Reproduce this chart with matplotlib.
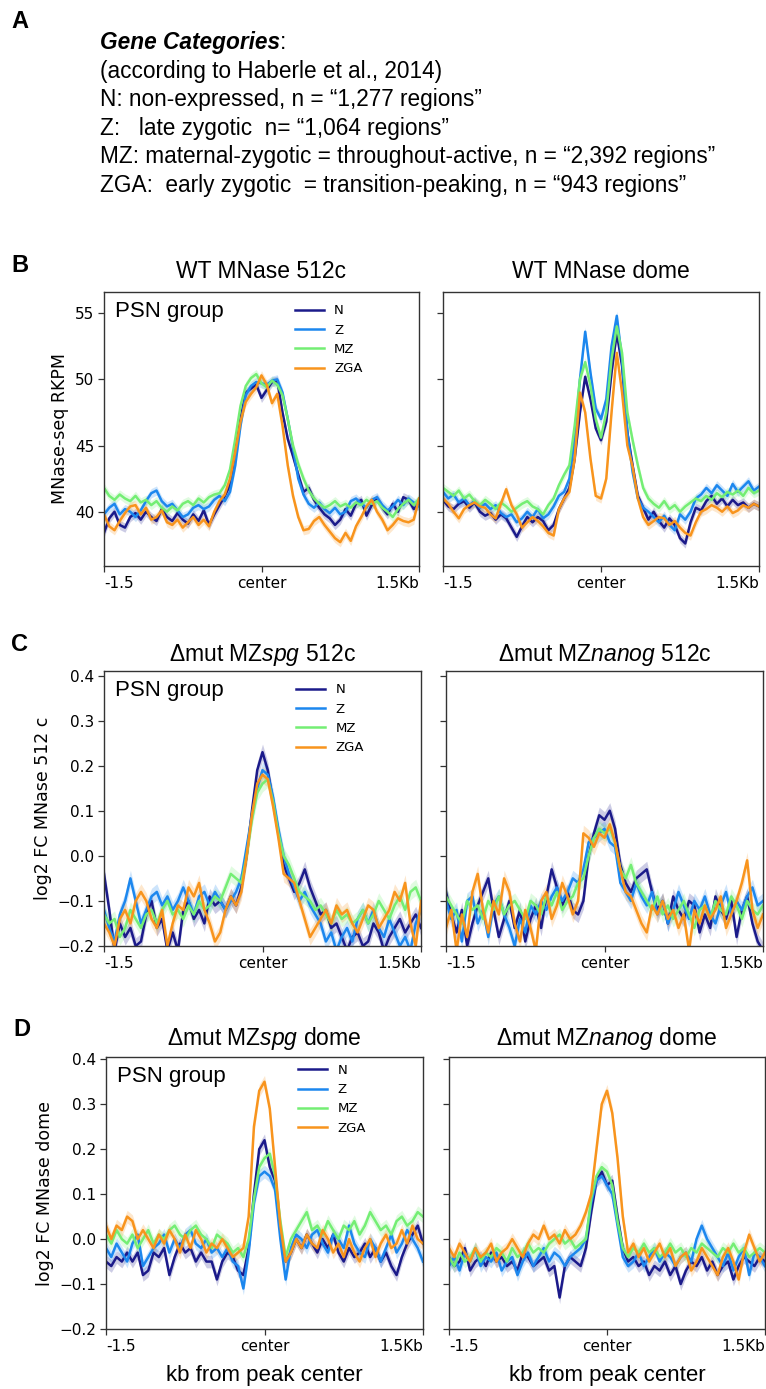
import numpy as np
import matplotlib
matplotlib.use("Agg")
import matplotlib.pyplot as plt
from matplotlib.lines import Line2D

plt.rcParams['mathtext.fontset'] = 'custom'
plt.rcParams['mathtext.rm'] = 'Liberation Sans'
plt.rcParams['mathtext.it'] = 'Liberation Sans:italic'

# ---------------- data ----------------
groups = ["N", "Z", "MZ", "ZGA"]
colors = ["#1b1a8a", "#1c87ee", "#74ee74", "#f8941d"]
positions_kb = np.linspace(-1.5, 1.5, 61)
xtick_pos = [-1.5, 0.0, 1.5]
xtick_labels = ["-1.5", "center", "1.5Kb"]

titles = ["WT MNase 512c", "WT MNase dome",
          "\u0394mut MZ$\\mathit{spg}$ 512c", "\u0394mut MZ$\\mathit{nanog}$ 512c",
          "\u0394mut MZ$\\mathit{spg}$ dome", "\u0394mut MZ$\\mathit{nanog}$ dome"]
ylabels = ["MNase-seq RKPM", "log2 FC MNase 512 c", "log2 FC MNase dome"]
yticks_B = [40, 45, 50, 55]
yticks_CD = [-0.2, -0.1, 0.0, 0.1, 0.2, 0.3, 0.4]

# Panel B left: WT MNase 512c
wt512_N = [38.4, 39.5, 40.0, 39.0, 38.8, 39.6, 39.9, 39.4, 40.0, 39.6, 39.3, 40.2, 39.6, 39.3, 39.9, 39.4,
           39.1, 39.8, 39.3, 40.1, 39.0, 39.8, 40.5, 41.2, 42.0, 44.5, 47.0, 49.0, 49.3, 49.6, 48.6, 49.2,
           49.8, 49.9, 47.5, 45.5, 44.2, 42.8, 41.5, 41.8, 40.9, 40.3, 39.8, 39.5, 39.0, 39.4, 40.2, 39.7,
           40.6, 40.9, 39.7, 40.5, 41.0, 40.3, 39.8, 40.6, 40.0, 41.1, 40.9, 40.2, 40.6]
wt512_Z = [39.8, 40.3, 40.6, 39.8, 40.2, 40.0, 39.6, 40.1, 40.8, 41.4, 41.6, 40.8, 40.4, 40.6, 40.1, 39.6,
           39.8, 40.3, 40.5, 40.2, 40.4, 40.9, 41.2, 40.8, 41.5, 43.5, 46.5, 48.8, 49.5, 49.8, 49.7, 49.6,
           49.9, 50.0, 49.0, 47.0, 44.8, 42.5, 41.3, 40.6, 40.3, 40.7, 40.2, 39.9, 40.3, 39.8, 40.0, 40.8,
           41.0, 40.6, 40.3, 40.9, 41.1, 40.5, 40.1, 40.4, 40.9, 40.5, 41.0, 40.7, 40.4]
wt512_MZ = [41.8, 41.2, 40.9, 41.3, 41.0, 40.8, 41.2, 40.7, 40.9, 40.5, 40.8, 40.3, 40.0, 40.4, 40.1, 40.6,
            40.8, 40.5, 41.0, 40.7, 41.1, 41.3, 41.4, 42.0, 43.2, 45.5, 48.0, 49.5, 50.1, 50.4, 49.7, 49.4,
            49.9, 49.6, 48.8, 47.0, 45.0, 43.6, 42.5, 41.6, 41.0, 40.6, 40.3, 40.5, 40.8, 40.4, 40.6, 40.3,
            40.7, 40.5, 40.9, 40.6, 40.8, 40.3, 40.0, 39.6, 40.2, 40.6, 40.9, 40.5, 41.0]
wt512_ZGA = [39.8, 38.9, 38.6, 39.3, 39.9, 40.4, 40.5, 39.8, 40.3, 39.4, 39.6, 40.1, 39.2, 39.0, 39.4, 38.8,
             39.2, 39.6, 39.0, 39.4, 38.9, 40.0, 40.8, 41.3, 42.5, 44.5, 46.8, 48.3, 48.9, 49.4, 50.3, 49.6,
             48.2, 48.9, 46.5, 43.5, 41.2, 39.6, 38.6, 38.7, 39.3, 39.6, 39.0, 38.5, 38.0, 37.7, 38.4, 37.8,
             38.9, 39.6, 40.4, 40.9, 40.0, 39.4, 38.6, 39.0, 39.5, 39.3, 39.2, 39.4, 41.0]

# Panel B right: WT MNase dome
wtdome_N = [40.9, 40.4, 40.2, 40.6, 40.8, 40.3, 40.7, 40.0, 39.7, 39.9, 39.4, 39.8, 39.5, 38.8, 38.1, 38.9,
            39.6, 39.2, 39.6, 39.3, 38.6, 39.0, 40.2, 41.0, 41.8, 44.0, 47.5, 50.2, 48.5, 46.3, 45.4, 46.8,
            50.5, 53.5, 51.0, 46.0, 43.5, 41.2, 40.3, 39.4, 40.0, 39.3, 38.8, 39.5, 39.0, 38.0, 37.6, 39.2,
            40.3, 40.1, 40.8, 41.2, 40.6, 41.0, 40.4, 40.9, 40.5, 40.7, 40.3, 40.6, 40.4]
wtdome_Z = [41.5, 41.0, 41.3, 40.7, 41.0, 40.5, 40.8, 40.3, 40.6, 40.2, 40.5, 39.9, 39.6, 39.8, 39.2, 39.5,
            40.0, 39.6, 40.2, 39.5, 39.8, 40.4, 41.2, 41.5, 42.5, 45.5, 50.0, 53.6, 50.5, 47.8, 47.0, 48.5,
            52.5, 54.8, 51.5, 46.0, 43.0, 41.0, 40.3, 40.0, 39.6, 39.2, 39.7, 39.0, 38.6, 39.8, 39.4, 40.0,
            41.0, 41.3, 41.8, 41.4, 42.0, 41.6, 41.2, 42.1, 41.5, 41.9, 42.3, 41.6, 41.9]
wtdome_MZ = [41.8, 41.5, 41.2, 41.6, 41.0, 41.3, 40.8, 40.5, 40.9, 40.6, 40.2, 40.7, 40.4, 40.0, 40.3, 40.6,
             40.8, 40.4, 40.2, 39.8, 40.5, 41.0, 42.0, 42.8, 43.5, 46.5, 50.0, 51.3, 49.5, 47.0, 45.6, 47.5,
             51.5, 54.0, 52.0, 47.5, 45.4, 43.5, 41.8, 41.0, 40.6, 40.3, 40.8, 40.2, 40.5, 40.0, 40.4, 40.7,
             41.0, 40.8, 41.2, 40.9, 41.4, 41.1, 41.5, 41.3, 41.6, 41.2, 41.8, 41.4, 41.6]
wtdome_ZGA = [41.0, 40.6, 40.0, 39.5, 40.2, 40.5, 40.7, 40.4, 40.3, 39.8, 39.5, 40.6, 41.7, 40.5, 39.8, 38.8,
              39.2, 39.6, 39.3, 38.9, 38.4, 38.2, 40.2, 41.0, 41.5, 44.0, 49.0, 47.5, 44.0, 41.2, 41.0, 42.5,
              47.5, 52.0, 49.0, 45.0, 43.4, 41.0, 39.6, 39.0, 39.3, 39.6, 39.5, 39.0, 39.3, 38.8, 38.4, 38.2,
              39.2, 40.0, 40.2, 40.5, 40.3, 40.0, 40.4, 39.9, 40.1, 40.5, 40.3, 40.6, 40.4]

# Panel C left: dmut MZspg 512c
spg512_N = [-0.04, -0.12, -0.21, -0.15, -0.18, -0.16, -0.20, -0.19, -0.13, -0.10, -0.16, -0.14, -0.21, -0.17,
            -0.21, -0.12, -0.10, -0.14, -0.12, -0.15, -0.09, -0.11, -0.10, -0.12, -0.09, -0.11, -0.07, 0.00,
            0.10, 0.19, 0.23, 0.19, 0.12, 0.05, -0.02, -0.05, -0.08, -0.06, -0.03, -0.07, -0.10, -0.13, -0.12,
            -0.16, -0.15, -0.18, -0.21, -0.18, -0.17, -0.20, -0.19, -0.15, -0.17, -0.21, -0.18, -0.16, -0.14,
            -0.17, -0.15, -0.13, -0.16]
spg512_Z = [-0.12, -0.16, -0.19, -0.13, -0.10, -0.05, -0.10, -0.15, -0.12, -0.09, -0.08, -0.11, -0.09, -0.12,
            -0.10, -0.07, -0.10, -0.13, -0.09, -0.08, -0.11, -0.08, -0.10, -0.12, -0.10, -0.08, -0.05, 0.02,
            0.09, 0.15, 0.19, 0.18, 0.13, 0.06, 0.00, -0.04, -0.07, -0.10, -0.08, -0.11, -0.13, -0.15, -0.19,
            -0.17, -0.21, -0.18, -0.16, -0.19, -0.14, -0.12, -0.15, -0.12, -0.16, -0.18, -0.14, -0.17, -0.20,
            -0.18, -0.21, -0.15, -0.12]
spg512_MZ = [-0.13, -0.15, -0.14, -0.18, -0.16, -0.12, -0.14, -0.16, -0.13, -0.12, -0.15, -0.12, -0.10, -0.13,
             -0.12, -0.14, -0.11, -0.13, -0.10, -0.12, -0.11, -0.09, -0.10, -0.07, -0.04, -0.05, -0.06, 0.00,
             0.08, 0.14, 0.16, 0.17, 0.12, 0.05, 0.00, -0.02, -0.05, -0.08, -0.09, -0.10, -0.12, -0.11, -0.13,
             -0.15, -0.12, -0.14, -0.13, -0.15, -0.14, -0.12, -0.15, -0.13, -0.10, -0.12, -0.14, -0.11, -0.09,
             -0.12, -0.08, -0.07, -0.10]
spg512_ZGA = [-0.15, -0.17, -0.20, -0.14, -0.12, -0.15, -0.10, -0.08, -0.10, -0.14, -0.16, -0.12, -0.20, -0.15,
              -0.11, -0.12, -0.07, -0.09, -0.06, -0.12, -0.15, -0.19, -0.17, -0.12, -0.09, -0.11, -0.08, 0.00,
              0.09, 0.16, 0.18, 0.17, 0.11, 0.04, -0.04, -0.05, -0.06, -0.10, -0.14, -0.18, -0.16, -0.14, -0.12,
              -0.15, -0.11, -0.13, -0.12, -0.15, -0.17, -0.14, -0.11, -0.12, -0.16, -0.14, -0.12, -0.08, -0.10,
              -0.06, -0.15, -0.20, -0.10]

# Panel C right: dmut MZnanog 512c
nan512_N = [-0.08, -0.13, -0.17, -0.12, -0.20, -0.15, -0.11, -0.08, -0.05, -0.12, -0.18, -0.14, -0.10, -0.16,
            -0.12, -0.19, -0.14, -0.11, -0.16, -0.09, -0.03, -0.07, -0.11, -0.08, -0.12, -0.13, -0.10, 0.00,
            0.05, 0.09, 0.08, 0.10, 0.06, -0.02, -0.06, -0.08, -0.05, -0.04, -0.03, -0.08, -0.12, -0.10, -0.15,
            -0.09, -0.12, -0.14, -0.10, -0.11, -0.17, -0.13, -0.16, -0.09, -0.12, -0.14, -0.10, -0.18, -0.12,
            -0.09, -0.15, -0.19, -0.21]
nan512_Z = [-0.10, -0.14, -0.12, -0.19, -0.10, -0.09, -0.15, -0.12, -0.18, -0.11, -0.09, -0.13, -0.16, -0.20,
            -0.14, -0.17, -0.11, -0.13, -0.10, -0.12, -0.09, -0.07, -0.10, -0.08, -0.05, -0.06, -0.03, 0.03,
            0.04, 0.05, 0.06, 0.03, 0.02, -0.06, -0.08, -0.10, -0.06, -0.09, -0.11, -0.08, -0.13, -0.10, -0.15,
            -0.12, -0.08, -0.11, -0.14, -0.10, -0.12, -0.09, -0.13, -0.15, -0.11, -0.08, -0.13, -0.10, -0.12,
            -0.09, -0.07, -0.11, -0.10]
nan512_MZ = [-0.09, -0.11, -0.13, -0.15, -0.10, -0.12, -0.11, -0.14, -0.10, -0.12, -0.09, -0.13, -0.11, -0.10,
             -0.12, -0.14, -0.10, -0.11, -0.13, -0.09, -0.11, -0.08, -0.12, -0.10, -0.09, -0.06, -0.05, 0.00,
             0.04, 0.06, 0.05, 0.06, 0.03, -0.03, -0.05, -0.02, -0.06, -0.08, -0.10, -0.12, -0.09, -0.13, -0.11,
             -0.14, -0.12, -0.10, -0.13, -0.16, -0.12, -0.11, -0.14, -0.10, -0.12, -0.13, -0.09, -0.11, -0.14,
             -0.10, -0.12, -0.13, -0.11]
nan512_ZGA = [-0.16, -0.12, -0.21, -0.13, -0.18, -0.08, -0.04, -0.12, -0.17, -0.10, -0.13, -0.05, -0.08, -0.15,
              -0.19, -0.12, -0.16, -0.21, -0.10, -0.08, -0.14, -0.11, -0.06, -0.09, -0.13, -0.10, 0.05, 0.04,
              0.02, 0.05, 0.04, 0.07, 0.03, -0.03, -0.08, -0.09, -0.12, -0.15, -0.17, -0.11, -0.13, -0.10, -0.14,
              -0.12, -0.16, -0.13, -0.21, -0.12, -0.15, -0.11, -0.14, -0.12, -0.09, -0.16, -0.13, -0.10, -0.06,
              -0.01, -0.12, -0.16, -0.13]

# Panel D left: dmut MZspg dome
spgdome_N = [-0.05, -0.06, -0.04, -0.05, -0.03, -0.05, -0.03, -0.08, -0.07, -0.03, -0.04, -0.02, -0.08, -0.04,
             -0.01, -0.03, -0.02, -0.05, -0.03, -0.05, -0.05, -0.09, -0.05, -0.03, -0.04, -0.07, -0.08, -0.02,
             0.10, 0.20, 0.22, 0.16, 0.13, 0.02, -0.05, -0.03, 0.00, -0.02, 0.01, -0.01, -0.03, 0.00, -0.02,
             0.01, -0.03, -0.05, -0.02, -0.04, -0.03, -0.01, -0.04, -0.02, -0.05, -0.03, -0.06, -0.08, -0.04,
             -0.01, 0.01, 0.03, -0.01]
spgdome_Z = [-0.02, -0.04, -0.01, -0.03, -0.05, -0.01, 0.01, -0.06, -0.04, -0.02, -0.01, 0.01, -0.03, 0.00,
             -0.02, 0.01, 0.02, -0.01, -0.02, 0.00, -0.03, -0.02, -0.04, -0.02, -0.05, -0.06, -0.11, -0.03,
             0.08, 0.14, 0.15, 0.14, 0.11, 0.00, -0.09, -0.02, 0.01, 0.00, -0.02, 0.01, 0.02, -0.01, -0.03,
             0.01, 0.00, -0.02, 0.03, -0.01, -0.03, -0.04, 0.00, -0.02, -0.05, -0.02, 0.01, -0.03, -0.01,
             0.02, 0.00, -0.02, -0.05]
spgdome_MZ = [0.01, -0.01, 0.02, 0.00, -0.01, 0.01, -0.02, 0.00, 0.02, -0.01, 0.01, 0.00, 0.02, 0.03,
              0.01, 0.00, 0.02, 0.03, 0.01, 0.00, -0.02, 0.01, 0.00, -0.01, -0.03, -0.02, -0.04, 0.00,
              0.09, 0.16, 0.18, 0.19, 0.14, 0.04, -0.04, 0.00, 0.02, 0.04, 0.06, 0.02, 0.03, 0.01, 0.04,
              0.02, 0.00, 0.03, 0.02, 0.04, 0.01, 0.03, 0.06, 0.04, 0.02, 0.03, 0.01, 0.04, 0.05, 0.03,
              0.04, 0.06, 0.05]
spgdome_ZGA = [0.03, 0.00, 0.03, 0.02, 0.05, 0.04, 0.00, 0.02, 0.00, -0.02, 0.01, -0.01, 0.02, 0.00,
               -0.03, 0.01, -0.02, 0.02, 0.00, -0.03, -0.01, -0.02, 0.00, -0.02, -0.04, -0.03, -0.02, 0.05,
               0.25, 0.33, 0.35, 0.29, 0.16, 0.03, -0.05, -0.03, 0.00, -0.02, 0.01, -0.01, -0.02, 0.02, 0.00,
               -0.03, -0.01, -0.04, 0.00, -0.03, -0.05, -0.02, 0.00, -0.04, -0.01, 0.01, -0.02, -0.01, 0.02,
               -0.01, 0.03, 0.00, -0.01]

# Panel D right: dmut MZnanog dome
nandome_N = [-0.04, -0.06, -0.05, -0.02, -0.07, -0.05, -0.04, -0.06, -0.03, -0.05, -0.04, -0.06, -0.05, -0.07,
             -0.03, -0.04, -0.06, -0.05, -0.04, -0.07, -0.06, -0.13, -0.06, -0.04, -0.05, -0.06, -0.02, 0.06,
             0.13, 0.15, 0.12, 0.13, 0.05, -0.02, -0.05, -0.04, -0.06, -0.05, -0.08, -0.06, -0.07, -0.05, -0.08,
             -0.06, -0.10, -0.07, -0.05, -0.06, -0.04, -0.07, -0.05, -0.08, -0.06, -0.05, -0.09, -0.06, -0.04,
             -0.05, -0.06, -0.04, -0.05]
nandome_Z = [-0.06, -0.04, -0.07, -0.03, -0.05, -0.02, -0.06, -0.04, -0.05, -0.03, -0.07, -0.05, -0.04, -0.08,
             -0.05, -0.03, -0.06, -0.04, -0.02, -0.05, -0.03, -0.04, -0.06, -0.04, -0.03, -0.02, 0.00, 0.08,
             0.13, 0.14, 0.12, 0.10, 0.03, -0.04, -0.06, -0.05, -0.03, -0.06, -0.04, -0.02, -0.05, -0.03, -0.04,
             -0.06, -0.04, -0.03, -0.05, 0.00, 0.03, 0.00, -0.02, -0.04, -0.06, -0.03, -0.07, -0.04, -0.02,
             -0.08, -0.03, -0.04, -0.06]
nandome_MZ = [-0.04, -0.06, -0.03, -0.05, -0.04, -0.02, -0.05, -0.03, -0.04, -0.02, -0.03, -0.05, -0.02, -0.04,
              -0.03, -0.01, -0.03, -0.02, -0.03, -0.01, 0.00, 0.01, -0.01, 0.00, -0.02, -0.01, 0.00, 0.09,
              0.14, 0.16, 0.15, 0.12, 0.04, -0.02, -0.04, -0.02, -0.03, -0.01, -0.03, -0.02, -0.04, -0.03, -0.01,
              -0.03, -0.02, -0.04, -0.02, -0.03, -0.01, -0.02, -0.03, -0.04, -0.02, -0.03, -0.01, -0.03, -0.02,
              -0.04, -0.03, -0.02, -0.03]
nandome_ZGA = [-0.02, -0.04, -0.01, -0.03, -0.05, -0.02, -0.04, -0.03, -0.01, -0.05, -0.03, -0.02, 0.00, -0.02,
               -0.04, -0.01, 0.01, 0.00, 0.03, 0.00, 0.01, -0.01, 0.02, 0.00, 0.01, 0.03, 0.06, 0.10,
               0.20, 0.30, 0.33, 0.28, 0.18, 0.05, -0.03, -0.01, -0.04, -0.02, -0.05, -0.03, -0.01, -0.04, -0.02,
               -0.06, -0.04, -0.03, -0.07, -0.05, -0.02, -0.04, -0.06, -0.08, -0.04, -0.02, -0.05, -0.09, -0.03,
               0.01, -0.02, -0.05, -0.03]

panels = [
    [wt512_N, wt512_Z, wt512_MZ, wt512_ZGA],
    [wtdome_N, wtdome_Z, wtdome_MZ, wtdome_ZGA],
    [spg512_N, spg512_Z, spg512_MZ, spg512_ZGA],
    [nan512_N, nan512_Z, nan512_MZ, nan512_ZGA],
    [spgdome_N, spgdome_Z, spgdome_MZ, spgdome_ZGA],
    [nandome_N, nandome_Z, nandome_MZ, nandome_ZGA],
]

# ---------------- layout ----------------
W, H = 766, 1389
fig = plt.figure(figsize=(W / 100, H / 100), dpi=100)

def fx(px):
    return px / W

def fy(py):
    return 1 - py / H

boxes = [  # x0, x1, ytop, ybottom in pixels
    (104, 419, 292, 566), (443, 759, 292, 566),
    (104, 421, 671, 946), (446, 763, 671, 946),
    (106, 423, 1057, 1329), (449, 765, 1057, 1329),
]
title_y = [272, 272, 655, 655, 1039, 1039]
legend_y = [0.955, 0.955, 0.955, 0.955, 0.975, 0.975]
ylims = [(35.9, 56.6), (35.9, 56.6), (-0.2, 0.41), (-0.2, 0.41), (-0.2, 0.405), (-0.2, 0.405)]
bands = [0.35, 0.35, 0.018, 0.018, 0.014, 0.014]

SANS = "Liberation Sans"
DV = "DejaVu Sans"
spine_col = "#333333"

for k, (x0, x1, yt, yb) in enumerate(boxes):
    ax = fig.add_axes([fx(x0), fy(yb), fx(x1 - x0), (yb - yt) / H])
    for series, col in zip(panels[k], colors):
        v = np.array(series)
        ax.fill_between(positions_kb, v - bands[k], v + bands[k], color=col, alpha=0.22, lw=0)
        ax.plot(positions_kb, v, color=col, lw=1.8)
    ax.set_xlim(-1.5, 1.5)
    ax.set_ylim(*ylims[k])
    ax.set_xticks(xtick_pos)
    ax.set_xticklabels(xtick_labels, fontfamily=DV, fontsize=11)
    for lbl, ha in zip(ax.get_xticklabels(), ["left", "center", "right"]):
        lbl.set_horizontalalignment(ha)
    ax.set_yticks(yticks_B if k < 2 else yticks_CD)
    ax.tick_params(direction="out", length=4, width=0.9, color=spine_col,
                   labelsize=11, pad=3)
    for lbl in ax.get_yticklabels():
        lbl.set_fontfamily(DV)
    for sp in ax.spines.values():
        sp.set_color(spine_col)
        sp.set_linewidth(1.0)
    if k % 2 == 1:
        ax.tick_params(labelleft=False)
    else:
        ax.set_ylabel(ylabels[k // 2], fontfamily=DV, fontsize=12.5, labelpad=4)
        ax.text(0.035, 0.93, "PSN group", transform=ax.transAxes, fontfamily=SANS,
                fontsize=16, va="center", ha="left")
        handles = [Line2D([], [], color=c, lw=1.8) for c in colors]
        ax.legend(handles, groups, loc="upper left", bbox_to_anchor=(0.605, legend_y[k]),
                  frameon=False, prop={"family": DV, "size": 9.5}, handlelength=2.2,
                  handletextpad=0.8, labelspacing=0.48, borderaxespad=0, borderpad=0)
    fig.text(fx((x0 + x1) / 2), fy(title_y[k]), titles[k], fontfamily=SANS,
             fontsize=16.5, ha="center", va="center")
    if k >= 4:
        fig.text(fx((x0 + x1) / 2), fy(1375), "kb from peak center", fontfamily=SANS,
                 fontsize=16, ha="center", va="center")

# panel letters
for letter, (px, py) in zip("ABCD", [(20, 22), (20, 265), (20, 645), (22, 1030)]):
    fig.text(fx(px), fy(py), letter, fontfamily=SANS, fontweight="bold", fontsize=17,
             ha="center", va="center")

# Gene category text block
lines = [
    "(according to Haberle et al., 2014)",
    "N: non-expressed, n = \u201c1,277 regions\u201d",
    "Z:   late zygotic  n= \u201c1,064 regions\u201d",
    "MZ: maternal-zygotic = throughout-active, n = \u201c2,392 regions\u201d",
    "ZGA:  early zygotic  = transition-peaking, n = \u201c943 regions\u201d",
]
line_y = [71, 99, 128, 156, 185]
t0 = fig.text(fx(100), fy(49), "Gene Categories", fontfamily=SANS, fontsize=16.3,
              fontweight="bold", fontstyle="italic", ha="left", va="baseline")
r = fig.canvas.get_renderer()
bb = t0.get_window_extent(renderer=r)
fig.text(bb.x1 / W, fy(49), ":", fontfamily=SANS, fontsize=16.3, ha="left", va="baseline")
for s, yy in zip(lines, line_y):
    fig.text(fx(100), fy(yy + 7), s, fontfamily=SANS, fontsize=16.3, ha="left", va="baseline")

fig.savefig("out.png", dpi=100)
